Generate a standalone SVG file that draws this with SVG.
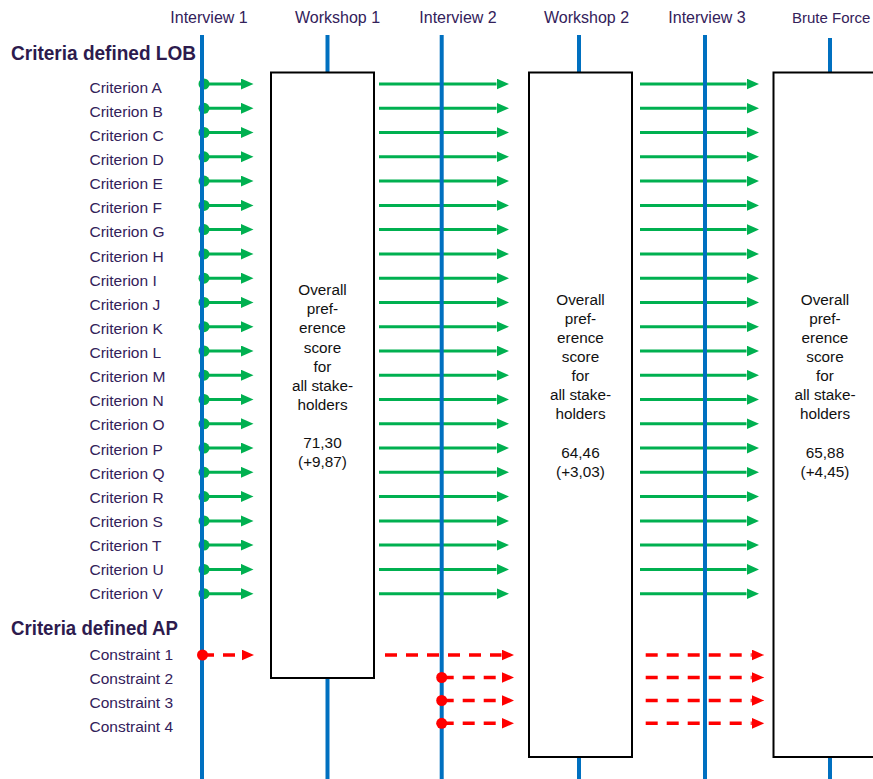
<svg xmlns="http://www.w3.org/2000/svg" width="873" height="779" viewBox="0 0 873 779">
<defs>
<marker id="ga" markerUnits="userSpaceOnUse" markerWidth="13" markerHeight="12" refX="0" refY="5.5" orient="auto"><path d="M0,0 L12.5,5.5 L0,11 z" fill="#00B050"/></marker>
<marker id="ra" markerUnits="userSpaceOnUse" markerWidth="13" markerHeight="12" refX="0" refY="5.5" orient="auto"><path d="M0,0 L12.5,5.5 L0,11 z" fill="#FF0000"/></marker>
<style>
.g{stroke:#00B050;stroke-width:3;fill:none;marker-end:url(#ga)}
.r{stroke:#FF0000;stroke-width:3.5;fill:none;stroke-dasharray:12 9;marker-end:url(#ra)}
.gd{fill:#00B050}
.rd{fill:#FF0000}
.tl{stroke:#0070C0;stroke-width:4}
.box{fill:#fff;stroke:#000;stroke-width:2}
.lbl{font-family:"Liberation Sans",Arial,sans-serif;font-size:15.5px;fill:#33215A}
.hdr{font-family:"Liberation Sans",Arial,sans-serif;font-size:16px;fill:#33215A;text-anchor:middle}
.ttl{font-family:"Liberation Sans",Arial,sans-serif;font-size:21px;font-weight:bold;fill:#2D1B4E}
.bt{font-family:"Liberation Sans",Arial,sans-serif;font-size:15.3px;fill:#111;text-anchor:middle}
</style>
</defs>
<rect width="873" height="779" fill="#fff"/>

<g id="connectors">
<g id="criteria-arrows">
<line class="g" x1="204" y1="84" x2="241" y2="84"/><line class="g" x1="379" y1="84" x2="496.5" y2="84"/><line class="g" x1="640" y1="84" x2="746.5" y2="84"/>
<line class="g" x1="204" y1="108.3" x2="241" y2="108.3"/><line class="g" x1="379" y1="108.3" x2="496.5" y2="108.3"/><line class="g" x1="640" y1="108.3" x2="746.5" y2="108.3"/>
<line class="g" x1="204" y1="132.5" x2="241" y2="132.5"/><line class="g" x1="379" y1="132.5" x2="496.5" y2="132.5"/><line class="g" x1="640" y1="132.5" x2="746.5" y2="132.5"/>
<line class="g" x1="204" y1="156.8" x2="241" y2="156.8"/><line class="g" x1="379" y1="156.8" x2="496.5" y2="156.8"/><line class="g" x1="640" y1="156.8" x2="746.5" y2="156.8"/>
<line class="g" x1="204" y1="181.1" x2="241" y2="181.1"/><line class="g" x1="379" y1="181.1" x2="496.5" y2="181.1"/><line class="g" x1="640" y1="181.1" x2="746.5" y2="181.1"/>
<line class="g" x1="204" y1="205.4" x2="241" y2="205.4"/><line class="g" x1="379" y1="205.4" x2="496.5" y2="205.4"/><line class="g" x1="640" y1="205.4" x2="746.5" y2="205.4"/>
<line class="g" x1="204" y1="229.6" x2="241" y2="229.6"/><line class="g" x1="379" y1="229.6" x2="496.5" y2="229.6"/><line class="g" x1="640" y1="229.6" x2="746.5" y2="229.6"/>
<line class="g" x1="204" y1="253.9" x2="241" y2="253.9"/><line class="g" x1="379" y1="253.9" x2="496.5" y2="253.9"/><line class="g" x1="640" y1="253.9" x2="746.5" y2="253.9"/>
<line class="g" x1="204" y1="278.2" x2="241" y2="278.2"/><line class="g" x1="379" y1="278.2" x2="496.5" y2="278.2"/><line class="g" x1="640" y1="278.2" x2="746.5" y2="278.2"/>
<line class="g" x1="204" y1="302.4" x2="241" y2="302.4"/><line class="g" x1="379" y1="302.4" x2="496.5" y2="302.4"/><line class="g" x1="640" y1="302.4" x2="746.5" y2="302.4"/>
<line class="g" x1="204" y1="326.7" x2="241" y2="326.7"/><line class="g" x1="379" y1="326.7" x2="496.5" y2="326.7"/><line class="g" x1="640" y1="326.7" x2="746.5" y2="326.7"/>
<line class="g" x1="204" y1="351" x2="241" y2="351"/><line class="g" x1="379" y1="351" x2="496.5" y2="351"/><line class="g" x1="640" y1="351" x2="746.5" y2="351"/>
<line class="g" x1="204" y1="375.2" x2="241" y2="375.2"/><line class="g" x1="379" y1="375.2" x2="496.5" y2="375.2"/><line class="g" x1="640" y1="375.2" x2="746.5" y2="375.2"/>
<line class="g" x1="204" y1="399.5" x2="241" y2="399.5"/><line class="g" x1="379" y1="399.5" x2="496.5" y2="399.5"/><line class="g" x1="640" y1="399.5" x2="746.5" y2="399.5"/>
<line class="g" x1="204" y1="423.8" x2="241" y2="423.8"/><line class="g" x1="379" y1="423.8" x2="496.5" y2="423.8"/><line class="g" x1="640" y1="423.8" x2="746.5" y2="423.8"/>
<line class="g" x1="204" y1="448.1" x2="241" y2="448.1"/><line class="g" x1="379" y1="448.1" x2="496.5" y2="448.1"/><line class="g" x1="640" y1="448.1" x2="746.5" y2="448.1"/>
<line class="g" x1="204" y1="472.3" x2="241" y2="472.3"/><line class="g" x1="379" y1="472.3" x2="496.5" y2="472.3"/><line class="g" x1="640" y1="472.3" x2="746.5" y2="472.3"/>
<line class="g" x1="204" y1="496.6" x2="241" y2="496.6"/><line class="g" x1="379" y1="496.6" x2="496.5" y2="496.6"/><line class="g" x1="640" y1="496.6" x2="746.5" y2="496.6"/>
<line class="g" x1="204" y1="520.9" x2="241" y2="520.9"/><line class="g" x1="379" y1="520.9" x2="496.5" y2="520.9"/><line class="g" x1="640" y1="520.9" x2="746.5" y2="520.9"/>
<line class="g" x1="204" y1="545.1" x2="241" y2="545.1"/><line class="g" x1="379" y1="545.1" x2="496.5" y2="545.1"/><line class="g" x1="640" y1="545.1" x2="746.5" y2="545.1"/>
<line class="g" x1="204" y1="569.4" x2="241" y2="569.4"/><line class="g" x1="379" y1="569.4" x2="496.5" y2="569.4"/><line class="g" x1="640" y1="569.4" x2="746.5" y2="569.4"/>
<line class="g" x1="204" y1="593.7" x2="241" y2="593.7"/><line class="g" x1="379" y1="593.7" x2="496.5" y2="593.7"/><line class="g" x1="640" y1="593.7" x2="746.5" y2="593.7"/>
</g>
<g id="criteria-dots">
<circle class="gd" cx="204" cy="84" r="5.5"/><circle class="gd" cx="204" cy="108.3" r="5.5"/><circle class="gd" cx="204" cy="132.5" r="5.5"/><circle class="gd" cx="204" cy="156.8" r="5.5"/><circle class="gd" cx="204" cy="181.1" r="5.5"/><circle class="gd" cx="204" cy="205.4" r="5.5"/><circle class="gd" cx="204" cy="229.6" r="5.5"/><circle class="gd" cx="204" cy="253.9" r="5.5"/><circle class="gd" cx="204" cy="278.2" r="5.5"/><circle class="gd" cx="204" cy="302.4" r="5.5"/><circle class="gd" cx="204" cy="326.7" r="5.5"/><circle class="gd" cx="204" cy="351" r="5.5"/><circle class="gd" cx="204" cy="375.2" r="5.5"/><circle class="gd" cx="204" cy="399.5" r="5.5"/><circle class="gd" cx="204" cy="423.8" r="5.5"/><circle class="gd" cx="204" cy="448.1" r="5.5"/><circle class="gd" cx="204" cy="472.3" r="5.5"/><circle class="gd" cx="204" cy="496.6" r="5.5"/><circle class="gd" cx="204" cy="520.9" r="5.5"/><circle class="gd" cx="204" cy="545.1" r="5.5"/><circle class="gd" cx="204" cy="569.4" r="5.5"/><circle class="gd" cx="204" cy="593.7" r="5.5"/>
</g>
<g id="constraint-arrows">
<line class="r" x1="202" y1="655" x2="241.5" y2="655"/><line class="r" x1="385" y1="655" x2="501.5" y2="655"/><line class="r" x1="645.7" y1="655" x2="751.7" y2="655"/>
<line class="r" x1="441.7" y1="677.5" x2="501.5" y2="677.5"/><line class="r" x1="645.7" y1="677.5" x2="751.7" y2="677.5"/>
<line class="r" x1="441.7" y1="700.5" x2="501.5" y2="700.5"/><line class="r" x1="645.7" y1="700.5" x2="751.7" y2="700.5"/>
<line class="r" x1="441.7" y1="723.3" x2="501.5" y2="723.3"/><line class="r" x1="645.7" y1="723.3" x2="751.7" y2="723.3"/>
</g>
</g>

<g id="interview-1"><line class="tl" x1="202" y1="35" x2="202" y2="779"/><text class="hdr" x="209" y="23.3">Interview 1</text></g>
<g id="workshop-1"><line class="tl" x1="327.5" y1="35" x2="327.5" y2="73"/><line class="tl" x1="327.5" y1="677" x2="327.5" y2="779"/><rect class="box" x="271" y="72.5" width="103" height="605.5"/><text class="hdr" x="337.5" y="23.3">Workshop 1</text>
<text class="bt"><tspan x="322.5" y="295">Overall</tspan><tspan x="322.5" y="314.2">pref-</tspan><tspan x="322.5" y="333.3">erence</tspan><tspan x="322.5" y="352.5">score</tspan><tspan x="322.5" y="371.6">for</tspan><tspan x="322.5" y="390.8">all stake-</tspan><tspan x="322.5" y="409.9">holders</tspan><tspan x="322.5" y="448.2">71,30</tspan><tspan x="322.5" y="467.4">(+9,87)</tspan></text></g>
<g id="interview-2"><line class="tl" x1="441.7" y1="35" x2="441.7" y2="779"/><text class="hdr" x="458" y="23.3">Interview 2</text></g>
<g id="workshop-2"><line class="tl" x1="579" y1="35" x2="579" y2="73"/><line class="tl" x1="579" y1="756" x2="579" y2="779"/><rect class="box" x="529" y="72.5" width="103" height="684.5"/><text class="hdr" x="586.5" y="23.3">Workshop 2</text>
<text class="bt"><tspan x="580.5" y="304.5">Overall</tspan><tspan x="580.5" y="323.7">pref-</tspan><tspan x="580.5" y="342.8">erence</tspan><tspan x="580.5" y="362">score</tspan><tspan x="580.5" y="381.1">for</tspan><tspan x="580.5" y="400.3">all stake-</tspan><tspan x="580.5" y="419.4">holders</tspan><tspan x="580.5" y="457.7">64,46</tspan><tspan x="580.5" y="476.9">(+3,03)</tspan></text></g>
<g id="interview-3"><line class="tl" x1="705" y1="35" x2="705" y2="779"/><text class="hdr" x="707" y="23.3">Interview 3</text></g>
<g id="brute-force"><line class="tl" x1="830" y1="38" x2="830" y2="73"/><line class="tl" x1="830" y1="756" x2="830" y2="779"/><rect class="box" x="773.5" y="72.5" width="110" height="684.5"/><text class="hdr" x="792" y="23.3" style="text-anchor:start;font-size:15px">Brute Force</text>
<text class="bt"><tspan x="825" y="304.5">Overall</tspan><tspan x="825" y="323.7">pref-</tspan><tspan x="825" y="342.8">erence</tspan><tspan x="825" y="362">score</tspan><tspan x="825" y="381.1">for</tspan><tspan x="825" y="400.3">all stake-</tspan><tspan x="825" y="419.4">holders</tspan><tspan x="825" y="457.7">65,88</tspan><tspan x="825" y="476.9">(+4,45)</tspan></text></g>

<g id="constraint-dots">
<circle class="rd" cx="202.5" cy="655" r="5.5"/><circle class="rd" cx="441.7" cy="677.5" r="5.5"/><circle class="rd" cx="441.7" cy="700.5" r="5.5"/><circle class="rd" cx="441.7" cy="723.3" r="5.5"/>
</g>

<g id="criteria-lob">
<text class="ttl" x="11" y="59.5" textLength="185" lengthAdjust="spacingAndGlyphs">Criteria defined LOB</text>
<text class="lbl" x="89.5" y="92.7">Criterion A</text>
<text class="lbl" x="89.5" y="116.8">Criterion B</text>
<text class="lbl" x="89.5" y="140.9">Criterion C</text>
<text class="lbl" x="89.5" y="165.1">Criterion D</text>
<text class="lbl" x="89.5" y="189.2">Criterion E</text>
<text class="lbl" x="89.5" y="213.3">Criterion F</text>
<text class="lbl" x="89.5" y="237.4">Criterion G</text>
<text class="lbl" x="89.5" y="261.5">Criterion H</text>
<text class="lbl" x="89.5" y="285.7">Criterion I</text>
<text class="lbl" x="89.5" y="309.8">Criterion J</text>
<text class="lbl" x="89.5" y="333.9">Criterion K</text>
<text class="lbl" x="89.5" y="358">Criterion L</text>
<text class="lbl" x="89.5" y="382.1">Criterion M</text>
<text class="lbl" x="89.5" y="406.3">Criterion N</text>
<text class="lbl" x="89.5" y="430.4">Criterion O</text>
<text class="lbl" x="89.5" y="454.5">Criterion P</text>
<text class="lbl" x="89.5" y="478.6">Criterion Q</text>
<text class="lbl" x="89.5" y="502.7">Criterion R</text>
<text class="lbl" x="89.5" y="526.9">Criterion S</text>
<text class="lbl" x="89.5" y="551">Criterion T</text>
<text class="lbl" x="89.5" y="575.1">Criterion U</text>
<text class="lbl" x="89.5" y="599.2">Criterion V</text>
</g>
<g id="criteria-ap">
<text class="ttl" x="11" y="635" textLength="167" lengthAdjust="spacingAndGlyphs">Criteria defined AP</text>
<text class="lbl" x="89.5" y="660">Constraint 1</text>
<text class="lbl" x="89.5" y="684">Constraint 2</text>
<text class="lbl" x="89.5" y="707.8">Constraint 3</text>
<text class="lbl" x="89.5" y="731.7">Constraint 4</text>
</g>
</svg>
